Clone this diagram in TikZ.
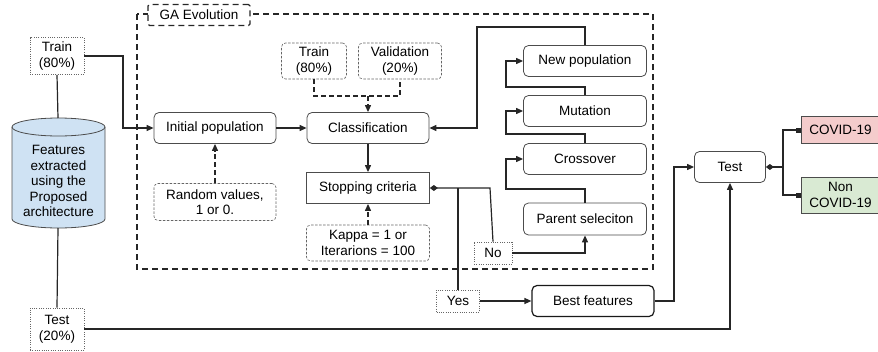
\documentclass[tikz,border=0pt]{standalone}
\usepackage{fontspec}
\setmainfont{Liberation Sans}
\usetikzlibrary{arrows.meta}
\definecolor{cylfill}{HTML}{CFE2F3}
\definecolor{redfill}{HTML}{F4CCCC}
\definecolor{greenfill}{HTML}{D9EAD3}
\begin{document}
\begin{tikzpicture}[x=1pt,y=-1pt,
  every node/.style={font=\fontsize{13.5}{15.5}\selectfont, align=center, inner sep=1pt},
  rbox/.style={draw=black!70, line width=0.8pt, rounded corners=5pt, fill=white, minimum width=122pt, minimum height=31pt},
  sbox/.style={draw=black!70, line width=0.8pt, fill=white, minimum width=123pt, minimum height=31pt},
  dashbox/.style={draw=black!60, line width=0.6pt, dash pattern=on 2.5pt off 1.5pt, rounded corners=4pt, fill=white},
  dotbox/.style={draw=black!60, line width=0.7pt, dash pattern=on 1pt off 1.3pt, fill=white},
  conn/.style={line width=1.2pt, draw=black!85},
  arr/.style={-{Triangle[length=7pt,width=6pt]}},
  dia/.style={{Diamond[length=8pt,width=6pt]}-},
  sqarr/.style={-{Square[length=5pt,width=5pt]}},
  dconn/.style={line width=1.2pt, draw=black!85, dash pattern=on 5pt off 3pt},
  gaframe/.style={line width=1.3pt, draw=black!85, dash pattern=on 6pt off 4pt}
]
\useasboundingbox (0,0) rectangle (878,351);
\clip (0,0) rectangle (878,351);

% GA frame
\draw[gaframe] (137,14) rectangle (653,269);
\node[gaframe, draw, fill=white, minimum width=102pt, minimum height=21pt, rounded corners=1.5pt] (galabel) at (199,15) {GA Evolution};

% cylinder (y axis points down: angles 0..180 bulge downwards)
\draw[draw=black!70, line width=0.8pt, fill=cylfill]
  (12,127) -- (12,219) arc[start angle=180, end angle=0, x radius=46.5, y radius=9]
  -- (105,127) arc[start angle=360, end angle=180, x radius=46.5, y radius=9] -- cycle;
\draw[draw=black!70, line width=0.8pt] (12,127) arc[start angle=180, end angle=0, x radius=46.5, y radius=9];
\node (cyl) at (58.5,181) {Features\\extracted\\using the\\Proposed\\architecture};
\coordinate (cyltop) at (58,118);
\coordinate (cylbot) at (58,228);

% left nodes
\node[dotbox, minimum width=54pt, minimum height=37pt] (trainL) at (57,56) {Train\\(80\%)};
\node[dotbox, minimum width=54pt, minimum height=42pt] (testL) at (57,329) {Test\\(20\%)};

% GA nodes
\node[rbox] (init) at (215,128) {Initial population};
\node[rbox] (cls) at (368,128) {Classification};
\node[dashbox, minimum width=65pt, minimum height=36pt] (trainI) at (314,61) {Train\\(80\%)};
\node[dashbox, minimum width=83pt, minimum height=36pt] (val) at (400,61) {Validation\\(20\%)};
\node[sbox] (stop) at (368,188) {Stopping criteria};
\node[dashbox, minimum width=123pt, minimum height=36pt] (kappa) at (368,243) {Kappa = 1 or\\Iterarions = 100};
\node[dashbox, minimum width=122pt, minimum height=37pt] (random) at (215,202) {Random values,\\1 or 0.};
\node[rbox, minimum width=123pt] (newp) at (585,61) {New population};
\node[rbox, minimum width=123pt] (mut) at (585,111) {Mutation};
\node[rbox, minimum width=123pt] (cross) at (585,159) {Crossover};
\node[rbox, minimum width=123pt, minimum height=32pt] (parent) at (585,219) {Parent seleciton};
\node[dotbox, minimum width=38pt, minimum height=22pt] (no) at (493,253) {No};
\node[dotbox, minimum width=43pt, minimum height=22pt] (yes) at (458,301) {Yes};
\node[rbox, draw=black!90, line width=1.2pt] (best) at (593,301) {Best features};
\node[rbox, minimum width=71pt] (test) at (730,167) {Test};
\node[draw=black!70, line width=0.8pt, fill=redfill, minimum width=79pt, minimum height=27pt] (covid) at (840.5,130) {COVID-19};
\node[draw=black!70, line width=0.8pt, fill=greenfill, minimum width=79pt, minimum height=36pt] (non) at (840.5,195) {Non\\COVID-19};

% connectors
\draw[conn] (trainL.south) -- (cyltop);
\draw[conn] (cylbot) -- (testL.north);
\draw[conn, arr] (trainL.east) -- (123,56) |- (init.west);
\draw[conn, arr] (testL.east) -| (test.south);
\draw[conn, arr] (init.east) -- (cls.west);
\draw[dconn] (trainI.south) -- (314,96) -| (val.south);
\draw[dconn, arr] (368,96) -- (cls.north);
\draw[conn, arr] (cls.south) -- (stop.north);
\draw[dconn, arr] (kappa.north) -- (stop.south);
\draw[dconn, arr] (random.north) -- (init.south);
\draw[conn, dia] (stop.east) -- (490,188) -- (no.north);
\draw[conn] (458,188) -- (yes.north);
\draw[conn, arr] (no.east) -| (parent.south);
\draw[conn, arr] (parent.north) -- (585,189) -- (506,189) |- (cross.west);
\draw[conn, arr] (cross.north) -- (585,134) -- (506,134) |- (mut.west);
\draw[conn, arr] (mut.north) -- (585,87) -- (506,87) |- (newp.west);
\draw[conn, arr] (newp.north) -- (585,27) -- (477,27) |- (cls.east);
\draw[conn, arr] (yes.east) -- (best.west);
\draw[conn, arr] (best.east) -- (674,301) |- (test.west);
\draw[conn, dia] (test.east) -- (783,167);
\draw[conn, sqarr] (783,167) |- (covid.west);
\draw[conn, sqarr] (783,167) |- (non.west);
\end{tikzpicture}
\end{document}
